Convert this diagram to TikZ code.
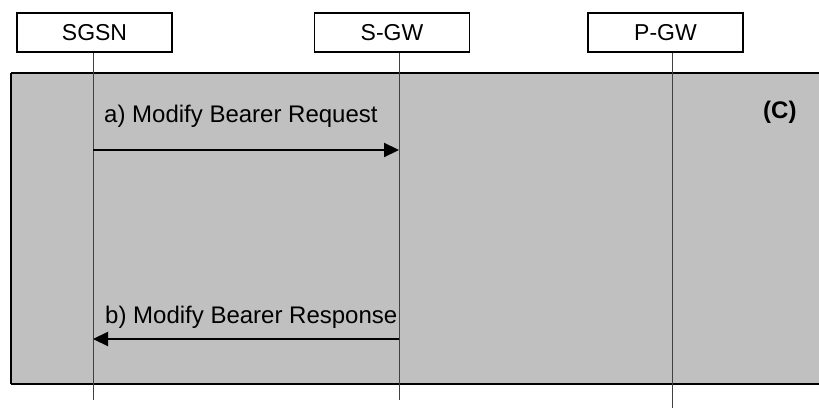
\documentclass[tikz,border=0pt]{standalone}
\usepackage{fontspec}
\setmainfont{Liberation Sans}
\usetikzlibrary{arrows.meta}
\definecolor{bg}{HTML}{C0C0C0}
\begin{document}
\begin{tikzpicture}[x=1pt,y=-1pt,
  entity/.style={draw,line width=1.6pt,fill=white,minimum width=155pt,minimum height=39pt,inner sep=0pt,font=\fontsize{23}{27}\selectfont},
  life/.style={line width=1pt,black!75},
  msg/.style={line width=2.2pt,-{Triangle[length=15pt,width=14pt]}},
  lbl/.style={anchor=base west,inner sep=0pt,font=\fontsize{24}{28}\selectfont}]
\useasboundingbox (0,0) rectangle (819,409);
% shaded region
\fill[bg] (11,73) rectangle (819,384);
\draw[line width=2.2pt] (819,73) -- (11,73);
\draw[line width=2.2pt] (819,384) -- (11,384);
\draw[line width=1.6pt] (11,73) -- (11,384);
% entities
\node[entity] (sgsn) at (94.5,32.5) {SGSN};
\node[entity] (sgw) at (392,32.5) {S-GW};
\node[entity] (pgw) at (665.5,32.5) {P-GW};
% lifeline ends
\coordinate (sgsnE) at (93,400);
\coordinate (sgwE) at (399,400);
\coordinate (pgwE) at (672,408);
\draw[life] (sgsn.south -| sgsnE) -- (sgsnE);
\draw[life] (sgw.south -| sgwE) -- (sgwE);
\draw[life] (pgw.south -| pgwE) -- (pgwE);
% messages
\coordinate (a1) at (93,150);
\coordinate (a2) at (399,150);
\coordinate (b1) at (399,339);
\coordinate (b2) at (93,339);
\draw[msg] (a1) -- (a2);
\draw[msg] (b1) -- (b2);
\node[lbl] (la) at (104,123) {a) Modify Bearer Request};
\node[lbl] (lb) at (105,323) {b) Modify Bearer Response};
\node[anchor=base west,inner sep=0pt,font=\bfseries\fontsize{24}{28}\selectfont] (c) at (763,119) {(C)};
\end{tikzpicture}
\end{document}
